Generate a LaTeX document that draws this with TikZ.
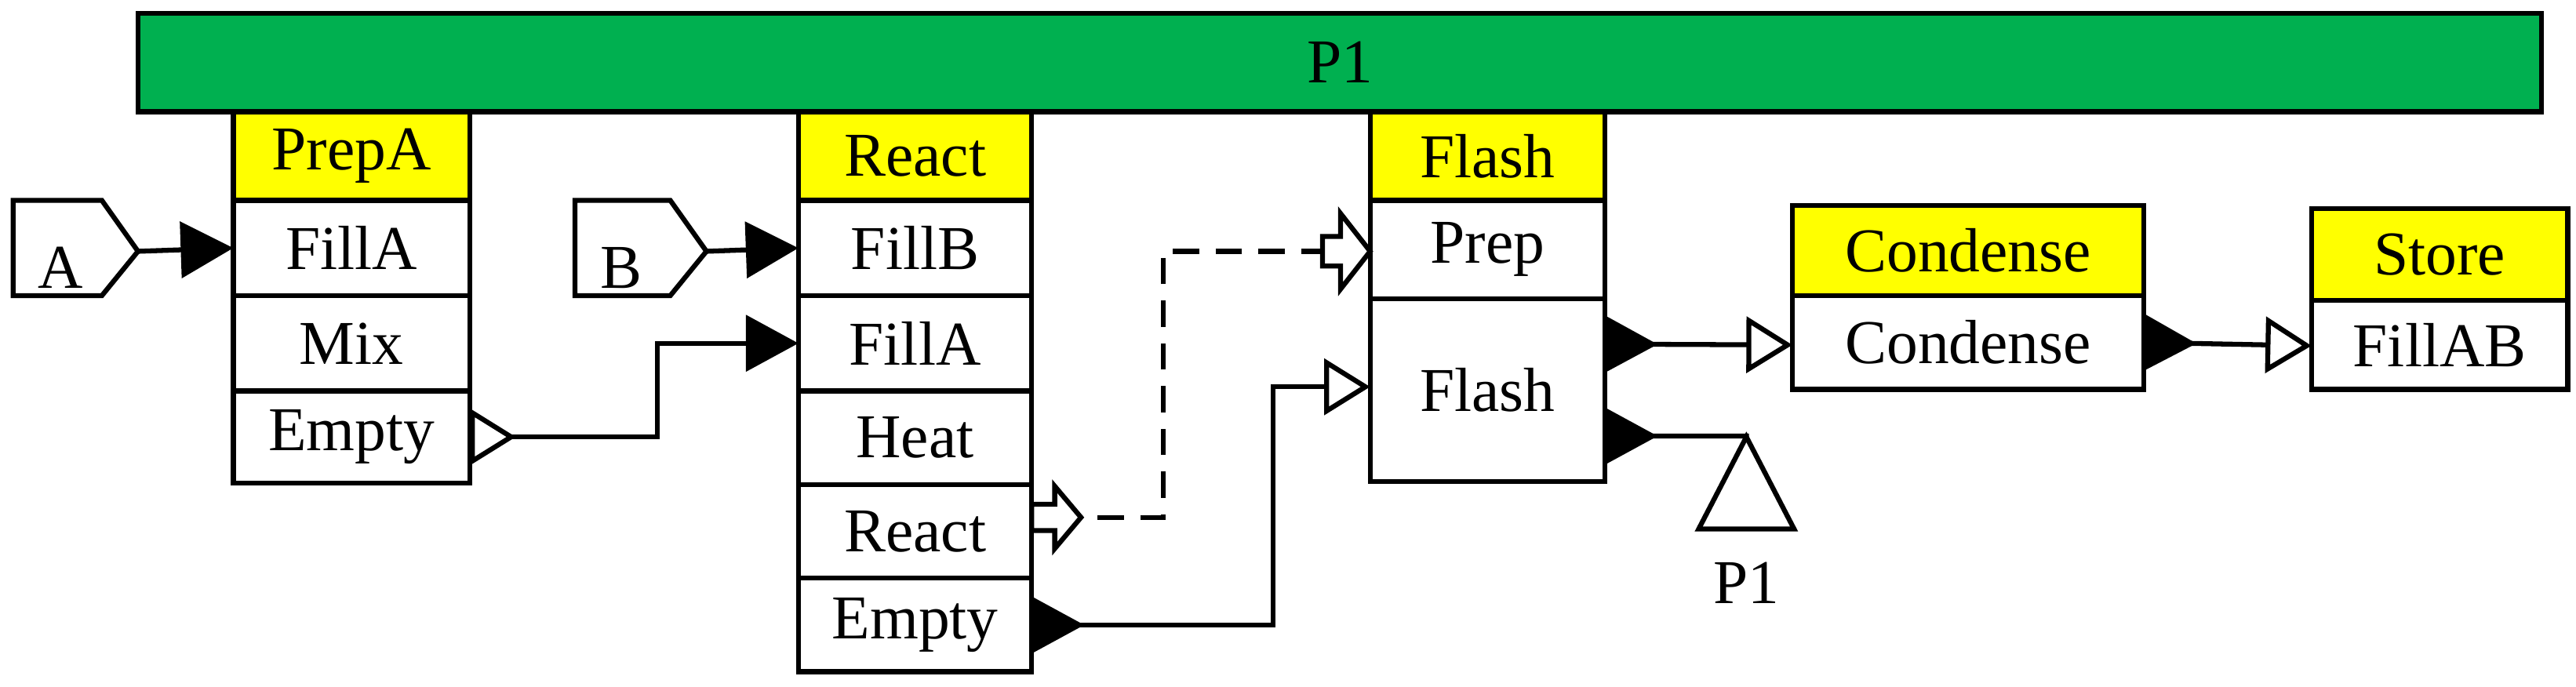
\documentclass[tikz,border=0pt]{standalone}
\usepackage{fontspec}
\setmainfont{Liberation Serif}
\usetikzlibrary{arrows.meta, calc}
\definecolor{barg}{RGB}{0,176,80}
\definecolor{heady}{RGB}{255,255,0}
\tikzset{%
    cell/.style={draw, line width=1.5mm, inner sep=0pt, outer sep=0pt, font=\fontsize{54}{60}\selectfont},
    hd/.style={cell, fill=heady},
    lnk/.style={line width=1.5mm},
    fo/.style={lnk, {Triangle[reversed,length=16mm,width=17mm]}-{Triangle[open,length=14mm,width=17mm]}},
    ff/.style={lnk, {Triangle[reversed,open,length=14mm,width=17mm]}-{Triangle[length=16mm,width=17mm]}},
    bo/.style={lnk, fill=white},
}
% name, x1, y1, x2, y2, text
\newcommand\cell[7][]{%
    \pgfmathsetmacro\cw{(#4-#2)*0.5}\pgfmathsetmacro\ch{(#5-#3)*0.5}%
    \node[cell,minimum width=\cw mm,minimum height=\ch mm,#1] (#6) at ({(#2+#4)/2},{(#3+#5)/2}) {#7};}
\begin{document}
\begin{tikzpicture}[x=0.5mm,y=-0.5mm]
    \useasboundingbox (0,0) rectangle (1568,418);
    \cell[fill=barg]{84}{8}{1547}{68}{bar}{P1}
    % PrepA
    \cell[hd]{142}{68}{286}{122}{pA}{PrepA}
    \cell{142}{122}{286}{180}{pFillA}{FillA}
    \cell{142}{180}{286}{238}{pMix}{Mix}
    \cell{142}{238}{286}{294}{pEmpty}{Empty}
    % React
    \cell[hd]{486}{68}{628}{122}{rR}{React}
    \cell{486}{122}{628}{180}{rFillB}{FillB}
    \cell{486}{180}{628}{238}{rFillA}{FillA}
    \cell{486}{238}{628}{295}{rHeat}{Heat}
    \cell{486}{295}{628}{352}{rReact}{React}
    \cell{486}{352}{628}{409}{rEmpty}{Empty}
    % Flash
    \cell[hd]{834}{68}{977}{122}{fF}{Flash}
    \cell{834}{122}{977}{182}{fPrep}{Prep}
    \cell{834}{182}{977}{293}{fFlash}{Flash}
    % Condense, Store
    \cell[hd]{1091}{125}{1305}{180}{cC}{Condense}
    \cell{1091}{180}{1305}{237}{cCond}{Condense}
    \cell[hd]{1407}{127}{1563}{183}{sS}{Store}
    \cell{1407}{183}{1563}{237}{sFill}{FillAB}
    % material tags
    \draw[lnk] (8,122) -- (62,122) -- (84,153) coordinate (tA) -- (62,180) -- (8,180) -- cycle;
    \node[font=\fontsize{54}{60}\selectfont] (lA) at (37,163) {A};
    \draw[lnk] (350,122) -- (408,122) -- (430,153) coordinate (tB) -- (408,180) -- (350,180) -- cycle;
    \node[font=\fontsize{54}{60}\selectfont] (lB) at (378,163) {B};
    \draw[lnk] (1063,266) coordinate (tP) -- (1092,322) -- (1034,322) -- cycle;
    \node[font=\fontsize{54}{60}\selectfont] (lP) at (1063,355) {P1};
    % links
    \draw[lnk, -{Triangle[length=16mm,width=17mm]}] (tA) -- (pFillA.west);
    \draw[lnk, -{Triangle[length=16mm,width=17mm]}] (tB) -- (rFillB.west);
    \draw[ff] (pEmpty.east) -- ++(114,0) |- (rFillA.west);
    \draw[fo] (rEmpty.east) -- ++(147,0) |- ($(fFlash.west)+(0,-2)$);
    \draw[fo] ($(fFlash.east)+(0,-28)$) -- ($(cCond.west)+(0,1.5)$);
    \draw[lnk, {Triangle[reversed,length=16mm,width=17mm]}-] ($(fFlash.east)+(0,28)$) -- ++(86,0) coordinate (pP) -- (tP);
    \draw[fo] (cCond.east) -- ($(sFill.west)+(0,0.5)$);
    % dashed signal
    \draw[lnk, dashed, dash pattern=on 8mm off 5mm] (642,315) -- (708,315) |- (805,153);
    \draw[bo] (628,307) -- (642,307) -- (642,296) -- (658,315) -- (642,334) -- (642,323) -- (628,323) -- cycle;
    \draw[bo] (805,144) -- (816,144) -- (816,130) -- (834,153) -- (816,176) -- (816,162) -- (805,162) -- cycle;
\end{tikzpicture}
\end{document}
